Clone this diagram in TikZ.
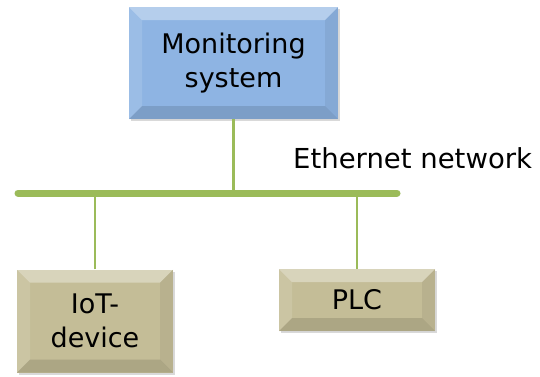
\documentclass[tikz,border=0pt]{standalone}
\usepackage{fontspec}
\setmainfont{DejaVu Sans}
\usetikzlibrary{shadows}
\definecolor{netgreen}{HTML}{9BBB59}
\definecolor{boxblue}{HTML}{8EB4E3}
\definecolor{boxtan}{HTML}{C4BD97}
\tikzset{
  bevel/.style={
    draw=none, inner sep=0pt, align=center,
    font=\fontsize{27}{34}\selectfont,
    drop shadow={opacity=0.3, shadow xshift=2pt, shadow yshift=-2pt},
    path picture={
      \fill[white,opacity=0.35] (path picture bounding box.north west) -- (path picture bounding box.north east)
        -- ([xshift=-13pt,yshift=-13pt]path picture bounding box.north east) -- ([xshift=13pt,yshift=-13pt]path picture bounding box.north west) -- cycle;
      \fill[white,opacity=0.12] (path picture bounding box.north west) -- ([xshift=13pt,yshift=-13pt]path picture bounding box.north west)
        -- ([xshift=13pt,yshift=13pt]path picture bounding box.south west) -- (path picture bounding box.south west) -- cycle;
      \fill[black,opacity=0.06] (path picture bounding box.north east) -- ([xshift=-13pt,yshift=-13pt]path picture bounding box.north east)
        -- ([xshift=-13pt,yshift=13pt]path picture bounding box.south east) -- (path picture bounding box.south east) -- cycle;
      \fill[black,opacity=0.12] (path picture bounding box.south west) -- ([xshift=13pt,yshift=13pt]path picture bounding box.south west)
        -- ([xshift=-13pt,yshift=13pt]path picture bounding box.south east) -- (path picture bounding box.south east) -- cycle;
    }
  },
  bluebox/.style={bevel, fill=boxblue},
  tanbox/.style={bevel, fill=boxtan},
  link/.style={draw=netgreen, line width=2.5pt},
  bus/.style={draw=netgreen, line width=7pt, line cap=round},
  lbl/.style={font=\fontsize{27.5}{32}\selectfont, inner sep=0pt}
}
\begin{document}
\begin{tikzpicture}[x=1pt,y=-1pt]
\useasboundingbox (0,0) rectangle (540,376);
\node[bluebox, minimum width=209pt, minimum height=112pt] (monitor) at (233.5,63) {Monitoring\\system};
\node[tanbox, minimum width=156pt, minimum height=103pt] (iot) at (95,321) {IoT-\\device};
\node[tanbox, minimum width=156pt, minimum height=62pt] (plc) at (357,300) {PLC};
\coordinate (busL) at (18,193);
\coordinate (busR) at (397,193);
\draw[bus] (busL) -- (busR);
\draw[link] (monitor.south) -- (monitor.south |- busL);
\draw[link] (iot.north) -- (iot.north |- busL);
\draw[link] (plc.north) -- (plc.north |- busL);
\node[lbl, anchor=west] (eth) at (293,158) {Ethernet network};
\end{tikzpicture}
\end{document}
